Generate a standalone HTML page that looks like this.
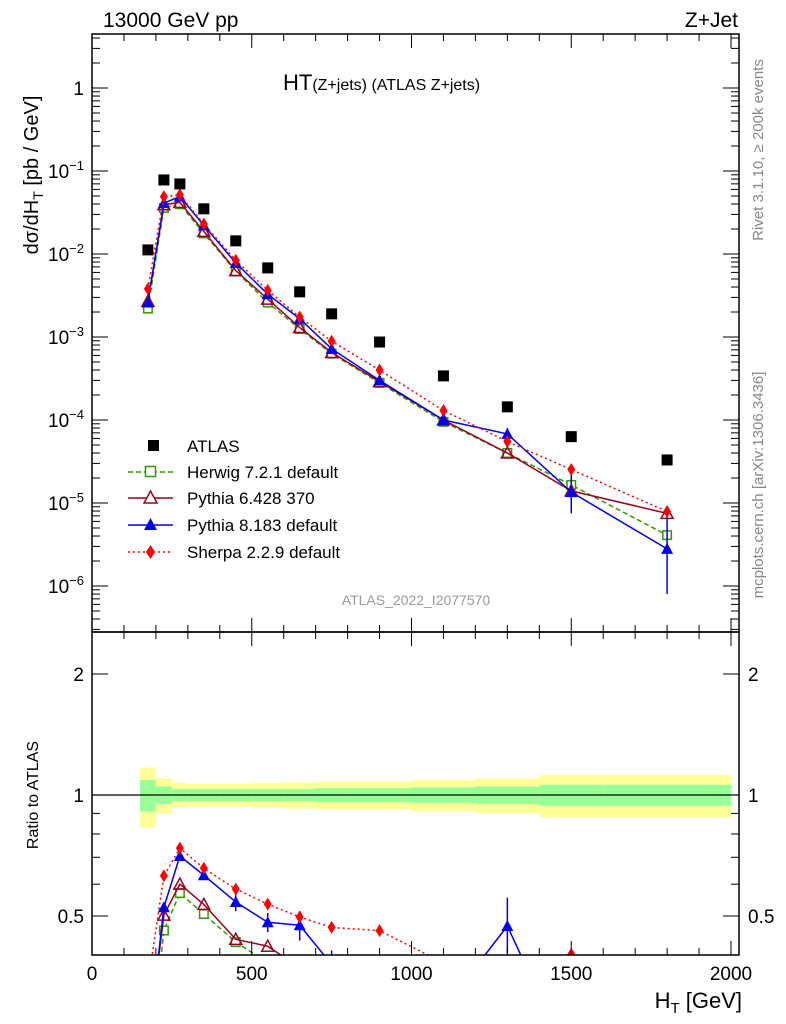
<!DOCTYPE html>
<html><head><meta charset="utf-8"><style>
html,body{margin:0;padding:0;background:#fff;width:786px;height:1024px;overflow:hidden;position:relative;}
svg{display:block;font-family:"Liberation Sans",Arial,sans-serif;}
</style></head><body>
<svg id="c" style="position:absolute;left:0;top:0" width="786" height="1024" viewBox="0 0 786 1024"></svg>
<script>
const bins=[175,225,275,350,450,550,650,750,900,1100,1300,1500,1800];
const edges=[150,200,250,300,400,500,600,700,800,1000,1200,1400,1600,2000];
const atlas=[0.0112,0.078,0.0698,0.035,0.0144,0.0068,0.0035,0.0019,0.00087,0.00034,0.000144,0.000063,0.000033];
const herwig=[0.0022,0.0359,0.0398,0.0177,0.0062,0.0026,0.00125,0.00063,0.00028,0.000095,0.00004,0.0000165,0.0000041];
const pythia6=[0.0027,0.0392,0.0419,0.0187,0.0063,0.00286,0.0013,0.00065,0.00029,0.0001,0.00004,0.000014,0.0000075];
const pythia8=[0.0026,0.041,0.0492,0.0221,0.0078,0.00328,0.00166,0.00072,0.0003,0.0001,0.000068,0.0000135,0.0000028];
const p8lo=[0.0025,0.040,0.048,0.0216,0.0074,0.0031,0.00152,0.00066,0.00027,0.00009,0.000058,0.0000075,0.0000008];
const p8hi=[0.0027,0.042,0.050,0.0226,0.0082,0.00346,0.00180,0.00078,0.00033,0.00011,0.000080,0.000023,0.0000085];
const sherpa=[0.0038,0.0491,0.0515,0.023,0.0084,0.00364,0.00174,0.00089,0.0004,0.00013,0.000055,0.0000253,0.0000079];
const statBand=[0.09,0.05,0.035,0.035,0.035,0.035,0.035,0.04,0.04,0.045,0.05,0.06,0.06];
const totBand=[0.17,0.10,0.07,0.065,0.065,0.07,0.075,0.08,0.08,0.09,0.10,0.12,0.12];
const yTicksMain=[1,0.1,0.01,0.001,0.0001,0.00001,0.000001];
const xTicks=[0,500,1000,1500,2000];

const svg=document.getElementById('c');
const NS='http://www.w3.org/2000/svg';
function el(t,a,p){const e=document.createElementNS(NS,t);for(const k in a)e.setAttribute(k,a[k]);(p||svg).appendChild(e);return e;}
const L=92,R=739,T=34,M=632,B=955;
const X=v=>92+v*(731-92)/2000;
const Y=v=>88-83*Math.log10(v);
const YR=r=>795-402*Math.log10(r);

const bandG=el('g',{});


const clipR=el('clipPath',{id:'cr'});el('rect',{x:L,y:M,width:R-L,height:B-M},clipR);
const clipM=el('clipPath',{id:'cm'});el('rect',{x:L,y:T,width:R-L,height:M-T},clipM);
for(let i=0;i<bins.length;i++){
  const x0=X(edges[i]),x1=X(edges[i+1]);
  el('rect',{x:x0,y:YR(1+totBand[i]),width:x1-x0,height:YR(1-totBand[i])-YR(1+totBand[i]),fill:'#ffff99'},bandG);
  el('rect',{x:x0,y:YR(1+statBand[i]),width:x1-x0,height:YR(1-statBand[i])-YR(1+statBand[i]),fill:'#99ff99'},bandG);
}
const one=el('line',{x1:L,x2:R,y1:YR(1),y2:YR(1),stroke:'#000','stroke-width':1.2});



function marker(g,type,x,y,col,s){
  if(type==='sq')el('rect',{x:x-s,y:y-s,width:2*s,height:2*s,fill:col},g);
  if(type==='osq')el('rect',{x:x-s+0.75,y:y-s+0.75,width:2*s-1.5,height:2*s-1.5,fill:'#fff',stroke:col,'stroke-width':1.5},g);
  if(type==='otri')el('polygon',{points:`${x},${y-s-1} ${x-s-1},${y+s} ${x+s+1},${y+s}`,fill:'none',stroke:col,'stroke-width':1.5},g);
  if(type==='tri')el('polygon',{points:`${x},${y-s-1} ${x-s-1},${y+s} ${x+s+1},${y+s}`,fill:col},g);
  if(type==='dia')el('polygon',{points:`${x},${y-s-1.5} ${x-s+1},${y} ${x},${y+s+1.5} ${x+s-1},${y}`,fill:col},g);
}
const series=[
 {name:'herwig',d:herwig,col:'#339900',dash:'5,3',m:'osq'},
 {name:'pythia6',d:pythia6,col:'#990022',dash:'',m:'otri'},
 {name:'pythia8',d:pythia8,col:'#0000ee',dash:'',m:'tri',lo:p8lo,hi:p8hi},
 {name:'sherpa',d:sherpa,col:'#ff0000',dash:'2,3',m:'dia'}];
series.forEach(s=>{
  const g=el('g',{'clip-path':'url(#cm)'});
  
  
  el('polyline',{points:bins.map((b,i)=>X(b)+','+Y(s.d[i])).join(' '),fill:'none',stroke:s.col,'stroke-width':1.5,'stroke-dasharray':s.dash},g);
  if(s.lo)bins.forEach((b,i)=>{el('line',{x1:X(b),x2:X(b),y1:Y(s.lo[i]),y2:Y(s.hi[i]),stroke:s.col,'stroke-width':1.5},g);});
  bins.forEach((b,i)=>marker(g,s.m,X(b),Y(s.d[i]),s.col,5));
  const gr=el('g',{'clip-path':'url(#cr)'});
  
  
  el('polyline',{points:bins.map((b,i)=>X(b)+','+YR(s.d[i]/atlas[i])).join(' '),fill:'none',stroke:s.col,'stroke-width':1.5,'stroke-dasharray':s.dash},gr);
  if(s.lo)bins.forEach((b,i)=>{el('line',{x1:X(b),x2:X(b),y1:YR(s.lo[i]/atlas[i]),y2:YR(s.hi[i]/atlas[i]),stroke:s.col,'stroke-width':1.5},gr);});
  bins.forEach((b,i)=>marker(gr,s.m,X(b),YR(s.d[i]/atlas[i]),s.col,5));
});
const ga=el('g',{});


bins.forEach((b,i)=>marker(ga,'sq',X(b),Y(atlas[i]),'#000',5.5));

el('rect',{x:L,y:T,width:R-L,height:M-T,fill:'none',stroke:'#000','stroke-width':1.5});
el('rect',{x:L,y:M,width:R-L,height:B-M,fill:'none',stroke:'#000','stroke-width':1.5});
for(let v=0;v<=2000;v+=100){
  const maj=v%500===0,len=maj?14:7;
  [[T,1],[M,-1],[M,1],[B,-1]].forEach(([y,d])=>el('line',{x1:X(v),x2:X(v),y1:y,y2:y+d*len,stroke:'#000','stroke-width':1}));
}
xTicks.forEach(v=>{const t=el('text',{x:X(v),y:980,'font-size':19,'text-anchor':'middle'});t.textContent=v;

});
for(let e=-7;e<=1;e++)for(let k=1;k<10;k++){
  const v=k*Math.pow(10,e),y=Y(v);if(y<T||y>M)continue;
  const len=k===1?16:8;
  el('line',{x1:L,x2:L+len,y1:y,y2:y,stroke:'#000'});el('line',{x1:R,x2:R-len,y1:y,y2:y,stroke:'#000'});
}
yTicksMain.forEach((v,i)=>{
  const t=el('text',{x:84,y:Y(v)+7,'font-size':19,'text-anchor':'end'});
  
  
  if(i===0)t.textContent='1';else{t.textContent='10';const s=el('tspan',{dy:-8,'font-size':13},t);s.textContent='−'+i;}
});
[0.4,0.5,0.6,0.7,0.8,0.9,1,2].forEach(v=>{const y=YR(v);const len=(v===0.5||v===1||v===2)?16:8;
el('line',{x1:L,x2:L+len,y1:y,y2:y,stroke:'#000'});el('line',{x1:R,x2:R-len,y1:y,y2:y,stroke:'#000'});});
[[0.5,'0.5'],[1,'1'],[2,'2']].forEach(([v,s])=>{
  const a=el('text',{x:84,y:YR(v)+7,'font-size':19,'text-anchor':'end'});a.textContent=s;
  
  
  const b=el('text',{x:748,y:YR(v)+7,'font-size':19});b.textContent=s;
  
  
});
</script>
<svg style="position:absolute;left:0;top:0" width="786" height="1024">
<text x="103" y="27" font-size="21">13000 GeV pp</text>
<text x="738" y="27" font-size="21" text-anchor="end">Z+Jet</text>
<text x="283" y="90" font-size="22">HT<tspan font-size="16">(Z+jets) (ATLAS Z+jets)</tspan></text>
<text x="416" y="605" font-size="14" fill="#999" text-anchor="middle">ATLAS_2022_I2077570</text>
<text transform="translate(38,175) rotate(-90)" font-size="20" text-anchor="middle">dσ/dH<tspan font-size="14" dy="5">T</tspan><tspan dy="-5"> [pb / GeV]</tspan></text>
<text transform="translate(38,795) rotate(-90)" font-size="16" text-anchor="middle">Ratio to ATLAS</text>
<text x="742" y="1008" font-size="22" text-anchor="end">H<tspan font-size="15" dy="5">T</tspan><tspan dy="-5"> [GeV]</tspan></text>
<text transform="translate(763,150) rotate(-90)" font-size="15" fill="#888" text-anchor="middle">Rivet 3.1.10, ≥ 200k events</text>
<text transform="translate(763,485) rotate(-90)" font-size="15" fill="#888" text-anchor="middle">mcplots.cern.ch [arXiv:1306.3436]</text>
<g font-size="17">
 <rect x="148" y="440" width="11" height="11" fill="#000"/>
 <text x="187" y="452">ATLAS</text>
 <line x1="128" x2="173" y1="472" y2="472" stroke="#339900" stroke-width="1.5" stroke-dasharray="5,3"/>
 <rect x="145.5" y="466.5" width="10" height="10" fill="#fff" stroke="#339900" stroke-width="1.5"/>
 <text x="187" y="478">Herwig 7.2.1 default</text>
 <line x1="128" x2="173" y1="498" y2="498" stroke="#990022" stroke-width="1.5"/>
 <polygon points="150.5,491 144,503 157,503" fill="#fff" stroke="#990022" stroke-width="1.5"/>
 <text x="187" y="504">Pythia 6.428 370</text>
 <line x1="128" x2="173" y1="525" y2="525" stroke="#0000ee" stroke-width="1.5"/>
 <polygon points="150.5,518 144,530 157,530" fill="#0000ee"/>
 <text x="187" y="531">Pythia 8.183 default</text>
 <line x1="128" x2="173" y1="552" y2="552" stroke="#ff0000" stroke-width="1.5" stroke-dasharray="2,3"/>
 <polygon points="150.5,545 146,552 150.5,559 155,552" fill="#ff0000"/>
 <text x="187" y="558">Sherpa 2.2.9 default</text>
</g>
</svg>
</body></html>
